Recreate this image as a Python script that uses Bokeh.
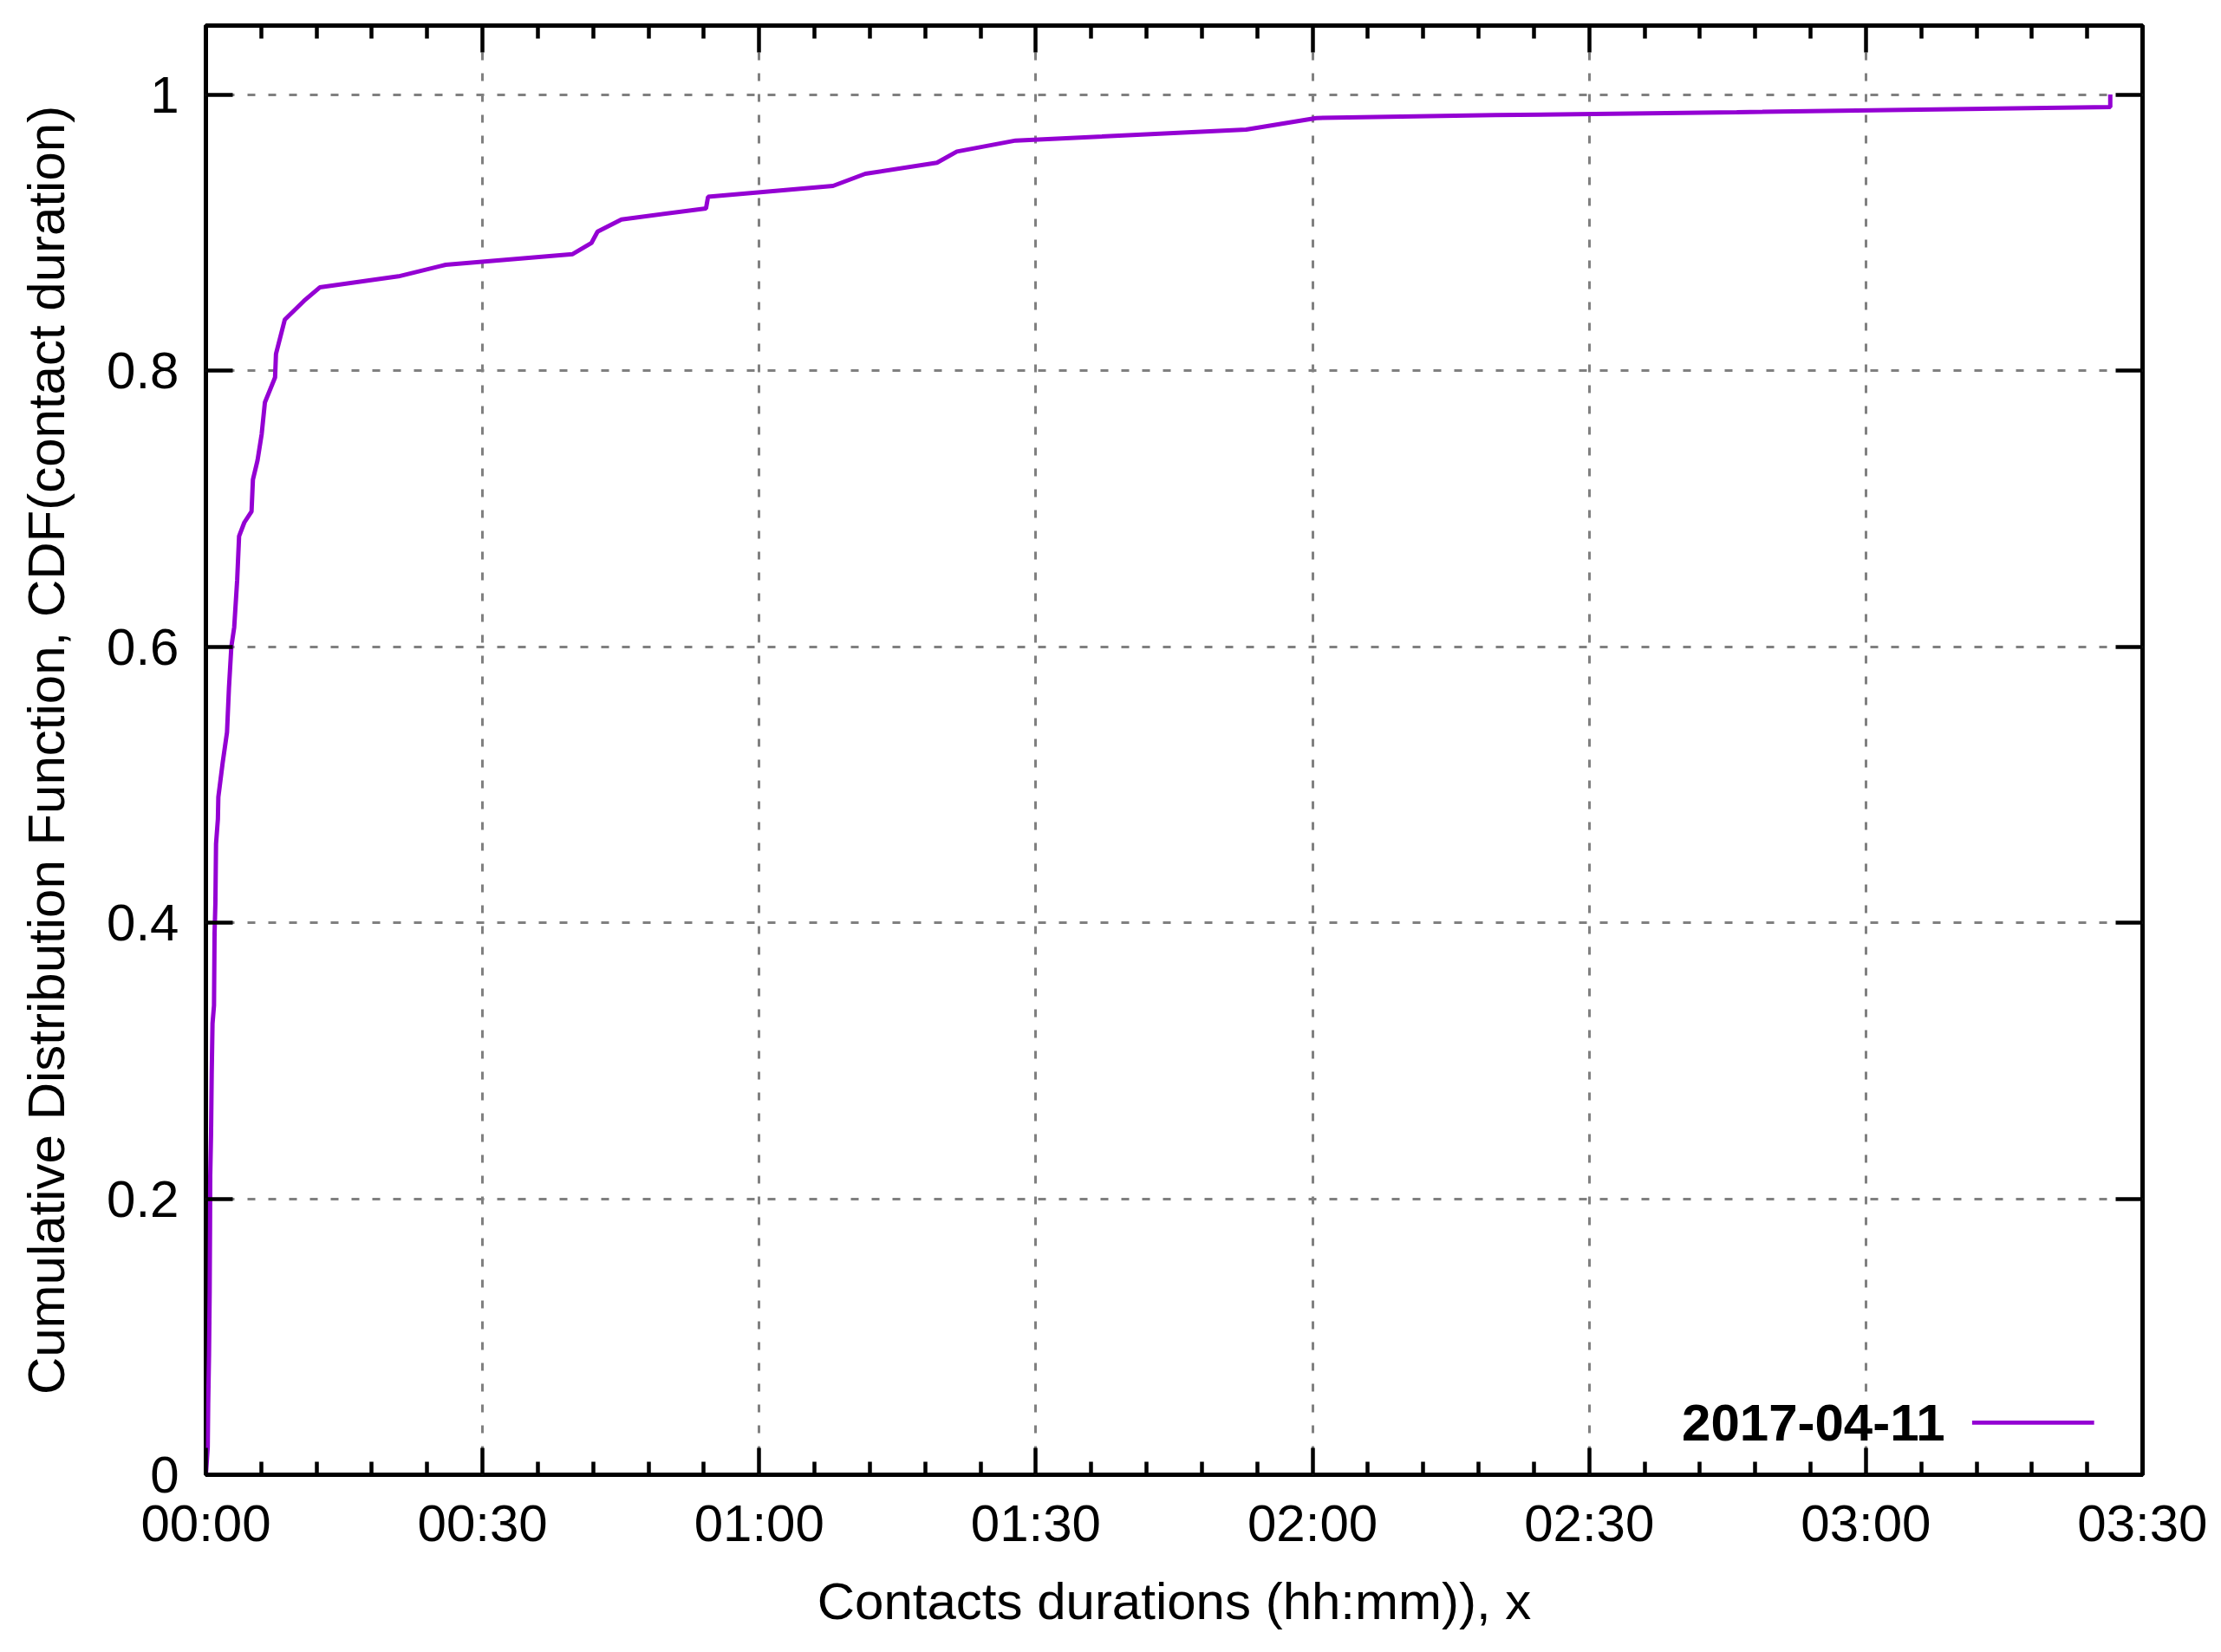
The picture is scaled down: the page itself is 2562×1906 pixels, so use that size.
from bokeh.plotting import figure
from bokeh.models import FixedTicker, LinearAxis, Label, BoxAnnotation, Range1d
from bokeh.embed import file_html
from bokeh.resources import INLINE

# ---------------- data ----------------
series_name = "2017-04-11"
duration_min = [0.0, 0.2, 0.25, 0.34, 0.41, 0.45, 0.47, 0.56, 0.63, 0.72, 0.88, 0.94,
                1.03, 1.1, 1.3, 1.35, 1.82, 2.29, 2.5, 2.76, 3.07, 3.39, 3.6, 4.17,
                4.95, 5.1, 5.6, 6.05, 6.4, 7.5, 7.6, 8.56, 10.63, 12.35, 20.88, 26.0,
                39.77, 41.8, 42.47, 45.06, 54.23, 54.45, 68.0, 71.5, 79.27, 81.43,
                87.8, 112.8, 120.4, 139.8, 166.0, 206.5, 206.5]
cdf = [0.0, 0.02, 0.051, 0.087, 0.133, 0.18, 0.216, 0.247, 0.290, 0.327, 0.340, 0.392,
       0.414, 0.457, 0.475, 0.491, 0.516, 0.538, 0.57, 0.600, 0.614, 0.648, 0.680, 0.690,
       0.698, 0.721, 0.735, 0.754, 0.777, 0.795, 0.812, 0.837, 0.8505, 0.8603, 0.8683, 0.8767,
       0.8844, 0.8924, 0.9007, 0.9095, 0.9175, 0.9259, 0.9338, 0.9426, 0.9506, 0.9587,
       0.9667, 0.9746, 0.9830, 0.9851, 0.9872, 0.9910, 1.0]
x_ticks = [0, 30, 60, 90, 120, 150, 180, 210]
x_tick_labels = ["00:00", "00:30", "01:00", "01:30", "02:00", "02:30", "03:00", "03:30"]
x_minor = [m for m in range(0, 211, 6) if m % 30 != 0]
y_ticks = [0, 0.2, 0.4, 0.6, 0.8, 1.0]
y_tick_labels = ["0", "0.2", "0.4", "0.6", "0.8", "1"]
x_title = "Contacts durations (hh:mm)), x"
y_title = "Cumulative Distribution Function, CDF(contact duration)"

# ---------------- style ----------------
FONT = "Liberation Sans"
FS = "60px"
PURPLE = "#9400d3"
X_MAX, Y_MAX = 210, 1.05

p = figure(width=2546, height=1890, output_backend="svg", toolbar_location=None,
           x_range=Range1d(0, X_MAX), y_range=Range1d(0, Y_MAX),
           min_border_left=237, min_border_right=75, min_border_top=29, min_border_bottom=189)
p.background_fill_color = "white"
p.border_fill_color = "white"
p.outline_line_color = "black"
p.outline_line_width = 5

p.line(duration_min, cdf, line_color=PURPLE, line_width=5)


def style_axis(ax, major, minor, labels, show_labels):
    ax.ticker = FixedTicker(ticks=major, minor_ticks=minor)
    ax.axis_line_color = None
    ax.major_tick_in = 31
    ax.major_tick_out = 0
    ax.major_tick_line_width = 4.5
    ax.major_tick_line_color = "black"
    if minor:
        ax.minor_tick_in = 15
        ax.minor_tick_out = 0
        ax.minor_tick_line_width = 4.5
        ax.minor_tick_line_color = "black"
    else:
        ax.minor_tick_line_color = None
    if show_labels:
        ax.major_label_overrides = {t: l for t, l in zip(major, labels)}
        ax.major_label_text_font = FONT
        ax.major_label_text_font_size = FS
        ax.major_label_text_color = "black"
    else:
        ax.major_label_overrides = {t: "" for t in major}
        ax.major_label_text_font_size = "0px"
        ax.major_label_standoff = 0


xb = p.xaxis[0]
yl = p.yaxis[0]
style_axis(xb, x_ticks, x_minor, x_tick_labels, True)
style_axis(yl, y_ticks, [], y_tick_labels, True)
xb.major_label_standoff = 22
yl.major_label_standoff = 31

xb.axis_label = x_title
yl.axis_label = y_title
for ax in (xb, yl):
    ax.axis_label_text_font = FONT
    ax.axis_label_text_font_size = FS
    ax.axis_label_text_font_style = "normal"
    ax.axis_label_text_color = "black"
xb.axis_label_standoff = 20
yl.axis_label_standoff = 33

xt = LinearAxis()
yr = LinearAxis()
style_axis(xt, x_ticks, x_minor, x_tick_labels, False)
style_axis(yr, y_ticks, [], y_tick_labels, False)
p.add_layout(xt, "above")
p.add_layout(yr, "right")

for g in (p.xgrid[0], p.ygrid[0]):
    g.grid_line_color = "#808080"
    g.grid_line_width = 3
    g.grid_line_dash = "9 15"
p.xgrid[0].ticker = FixedTicker(ticks=x_ticks)
p.ygrid[0].ticker = FixedTicker(ticks=y_ticks)

# legend (gnuplot style: label left of sample)
leg_x_text = X_MAX * 0.898
leg_y = Y_MAX * 0.036
p.add_layout(Label(x=leg_x_text, y=leg_y, text=series_name, text_align="right",
                   text_baseline="middle", text_font=FONT, text_font_size=FS,
                   text_font_style="bold", text_color="black"))
p.add_layout(BoxAnnotation(left=X_MAX * 0.912, right=X_MAX * 0.975,
                           bottom=leg_y - 0.0015, top=leg_y + 0.0015,
                           fill_color=PURPLE, fill_alpha=1.0, line_color=None))

open("out.html", "w").write(file_html(p, INLINE))
